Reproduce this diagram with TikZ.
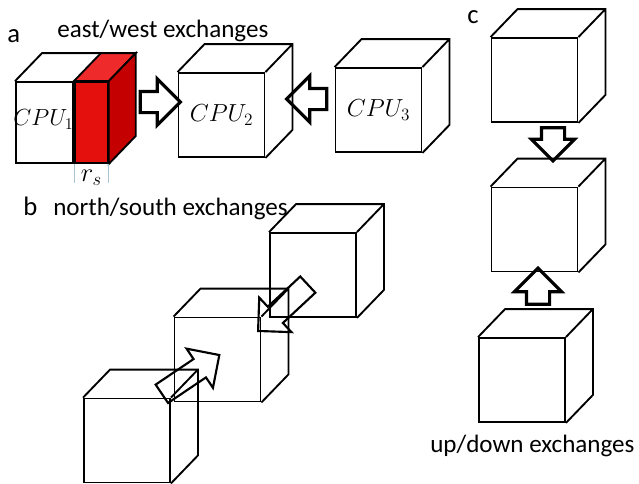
\RequirePackage{fix-cm}
\documentclass[tikz,border=0pt]{standalone}
\usepackage{fontspec}
\setmainfont{Carlito}
\usetikzlibrary{shapes.arrows, calc, positioning}
\definecolor{slabfront}{HTML}{E3100E}
\definecolor{slabtop}{HTML}{EE2A2A}
\definecolor{slabside}{HTML}{C40000}
\definecolor{tickgray}{HTML}{A9C3D3}
\tikzset{
  cubes/.style={x=0.75pt, y=-0.75pt, line join=miter},
  face/.style={
    draw=black, line width=1.4pt, inner sep=0pt,
    minimum width=64.5pt, minimum height=63pt,
    font=\fontsize{18.5}{22}\selectfont,
  },
  edge/.style={draw=black, line width=1.4pt},
  bigarrow/.style={
    single arrow, draw=black, line width=2.4pt, inner xsep=0pt,
    inner ysep=6.75pt, single arrow head extend=9.4pt, minimum height=30pt,
  },
  thinarrow/.style={
    bigarrow, line width=1.6pt, inner ysep=7.5pt,
    single arrow head extend=9.4pt, minimum height=52pt,
  },
  tick/.style={draw=tickgray, line width=0.6pt},
  caption/.style={font=\fontsize{18.8}{22}\selectfont, anchor=base west, inner sep=0pt},
  panel/.style={caption, font=\fontsize{20}{24}\selectfont},
}

\begin{document}
\begin{tikzpicture}[cubes]
  \useasboundingbox (0,0) rectangle (639,483);

  % a: east/west
  \node[panel] (la) at (7,42) {a};
  \node[caption] (tew) at (57,37) {east/west exchanges};
  \node[face, minimum width=42.75pt, minimum height=60.75pt] (a1) at (44.5,122.5) {};
  \node[face, fill=slabfront, minimum width=24.75pt, minimum height=60.75pt, right=0pt of a1] (rs) {};
  \node[font=\fontsize{17.5}{21}\selectfont, inner sep=0pt] (cpu1) at ($(a1)+(-1,-3)$) {$CPU_1$};
  \draw[edge] (a1.north west) -- ++(27,-28) -- ($(rs.north east)+(27,-28)$);
  \filldraw[edge, fill=slabtop] (rs.north west) -- ++(27,-28) -- ($(rs.north east)+(27,-28)$) -- (rs.north east) -- cycle;
  \filldraw[edge, fill=slabside] (rs.north east) -- ++(27,-28) -- ($(rs.south east)+(27,-28)$) -- (rs.south east) -- cycle;
  \draw[tick] (rs.south west) -- ++(0,19);
  \draw[tick] (rs.south east) -- ++(0,19);
  \node[font=\fontsize{20}{24}\selectfont, inner sep=0pt] (rslbl) at ($(rs.south)+(0,14)$) {$r_s$};

  \node[face] (a2) at (221.5,115) {$CPU_2$};
  \node[face] (a3) at (378.5,110) {$CPU_3$};
  \node[bigarrow] (ew1) at (155,102) {};
  \node[bigarrow, rotate=180] (ew2) at (312,99) {};

  % b: north/south
  \node[panel] (lb) at (23,215) {b};
  \node[caption] (tns) at (53,215) {north/south exchanges};
  \node[face] (b1) at (127,440.5) {};
  \node[face] (b2) at (217.5,359.5) {};
  \node[face] (b3) at (313,275) {};
  \node[thinarrow, rotate=34] (ns1) at (186,377.5) {};
  \node[thinarrow, rotate=223, minimum height=51pt] (ns2) at (287,304) {};

  % c: up/down
  \node[panel] (lc) at (467,23) {c};
  \node[face] (c1) at (534.5,80) {};
  \node[face] (c2) at (534.5,229.5) {};
  \node[face] (c3) at (522,380) {};
  \node[bigarrow, rotate=270, inner ysep=7.5pt, single arrow head extend=7.5pt, minimum height=24.75pt] (ud1) at (553,138.5) {};
  \node[bigarrow, rotate=90, inner ysep=7.5pt, single arrow head extend=9pt, minimum height=27pt] (ud2) at (538,292) {};
  \node[caption] (tud) at (430,452) {up/down exchanges};

  % receding faces of the plain cubes
  \foreach \cb in {a2,a3,b1,b2,b3,c1,c2,c3}
    \draw[edge] (\cb.north west) -- ++(27,-28) -- ($(\cb.north east)+(27,-28)$)
      -- ($(\cb.south east)+(27,-28)$) -- (\cb.south east)
      (\cb.north east) -- ++(27,-28);
\end{tikzpicture}
\end{document}
